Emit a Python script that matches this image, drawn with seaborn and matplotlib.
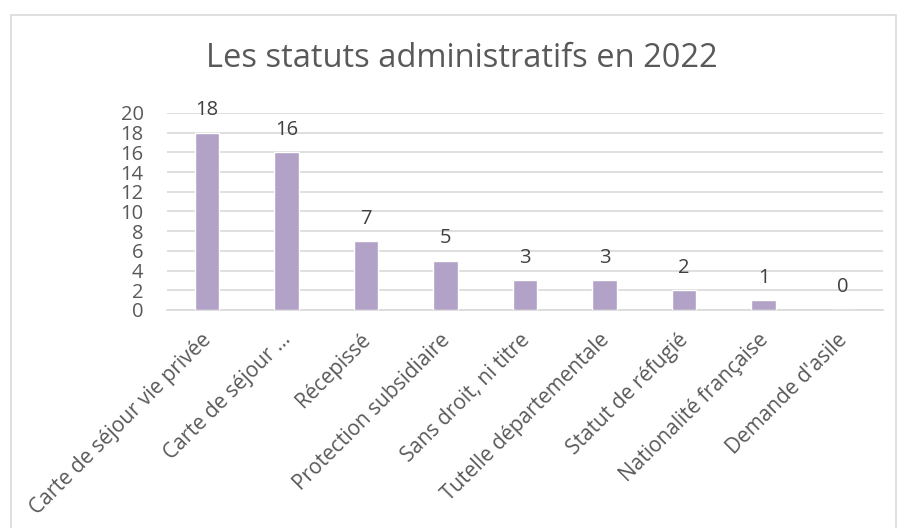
import pandas as pd
import matplotlib.pyplot as plt
import matplotlib.transforms as mtransforms
import seaborn as sns
from matplotlib.patches import Rectangle

# Données
statuts = ["Carte de séjour vie privée", "Carte de séjour …", "Récepissé",
           "Protection subsidiaire", "Sans droit, ni titre", "Tutelle départementale",
           "Statut de réfugié", "Nationalité française", "Demande d'asile"]
effectifs = [18, 16, 7, 5, 3, 3, 2, 1, 0]
yticks = list(range(0, 21, 2))

df = pd.DataFrame({"statut": statuts, "effectif": effectifs})

sns.set_theme(style="white")
plt.rcParams["font.family"] = ["Open Sans", "DejaVu Sans"]

fig = plt.figure(figsize=(8.99, 5.28), dpi=100)
ax = fig.add_axes([0.186, 0.413, 0.796, 0.373])

sns.barplot(data=df, x="statut", y="effectif", color="#B3A2C7", width=0.31,
            saturation=1, ax=ax, zorder=3)

# Étiquettes de données
for i, v in enumerate(effectifs):
    ax.annotate(str(v), (i, v), xytext=(0, 9), textcoords="offset points",
                ha="center", va="bottom", fontsize=14.5, color="#404040")

ax.set_ylim(0, 20)
ax.set_yticks(yticks)
ax.set_xlim(-0.5, len(statuts) - 0.5)
ax.grid(axis="y", color="#D9D9D9", linewidth=1.2, zorder=0)
for s in ["top", "right", "left"]:
    ax.spines[s].set_visible(False)
ax.spines["bottom"].set_color("#D9D9D9")
ax.spines["bottom"].set_linewidth(1.2)
ax.tick_params(axis="y", length=0, labelsize=14.5, labelcolor="#595959", pad=17)
ax.tick_params(axis="x", length=0, labelsize=15, labelcolor="#595959", pad=14)
decal = mtransforms.ScaledTranslation(-6 / 100, 0, fig.dpi_scale_trans)
for lab in ax.get_xticklabels():
    lab.set_rotation(45)
    lab.set_ha("right")
    lab.set_rotation_mode("anchor")
    lab.set_transform(lab.get_transform() + decal)
ax.set_xlabel("")
ax.set_ylabel("")

fig.text(0.514, 0.89, "Les statuts administratifs en 2022", ha="center", va="center",
         fontsize=23.5, color="#595959")

# Cadre du graphique
fig.patches.append(Rectangle((0.012, -0.01), 0.985, 0.982, transform=fig.transFigure,
                             fill=False, edgecolor="#D9D9D9", linewidth=1.2))

fig.savefig("out.png", dpi=100)
